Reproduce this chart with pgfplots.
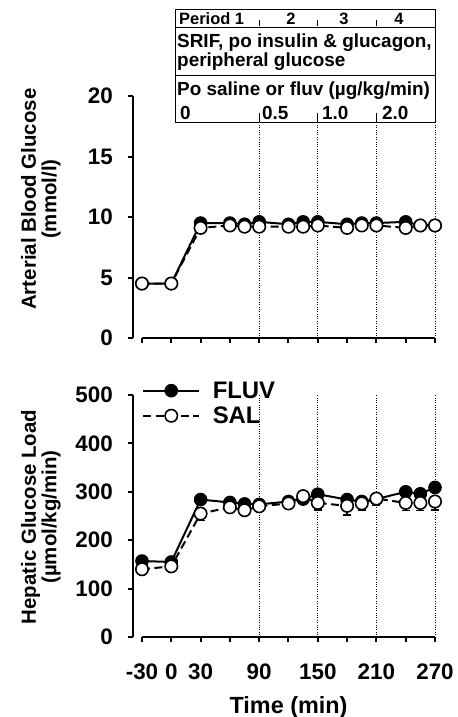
\documentclass[border=0pt]{standalone}
\usepackage{pgfplots}
\pgfplotsset{compat=1.18}
\usepackage{fontspec}
\setmainfont{Liberation Sans}
\newcommand{\fs}[1]{\bfseries\fontsize{#1}{#1}\selectfont}
\begin{document}
\begin{tikzpicture}[x=1bp,y=1bp]
\pgfplotsset{
  panel/.style={
    scale only axis, width=302bp, height=242bp,
    xmin=-39.2, xmax=270,
    axis x line*=bottom, axis y line*=left,
    x axis line style={draw=none},
    y axis line style={line width=2bp},
    every tick/.style={line width=2bp, black},
    tick align=outside, major tick length=5bp,
    xtick={-30,0,...,270},
    extra x ticks={90,150,210,270},
    extra x tick labels={},
    extra x tick style={grid=major, major grid style={dotted, line width=1bp, black}, major tick length=0pt},
    /pgf/number format/assume math mode=true,
    yticklabel style={font=\fs{22.5}, anchor=east, inner sep=0pt, xshift=-15bp},
    xticklabel style={font=\fs{22.5}, anchor=north, inner sep=0pt, yshift=-22bp},
    ylabel style={font=\fs{20.5}, align=center, anchor=center},
    clip=false,
  },
  fluv/.style={solid, line width=2bp, black, mark=*, mark size=6.2bp, mark options={solid, fill=black, line width=1.2bp}},
  sal/.style={dash pattern=on 8bp off 4.5bp, line width=2bp, black, mark=*, mark size=6.2bp, mark options={solid, fill=white, line width=1.6bp}},
}
% ---------- top panel ----------
\begin{axis}[panel, at={(133bp,-338bp)}, anchor=south west,
  ymin=0, ymax=20, ytick={0,5,10,15,20},
  xticklabels={},
  ylabel={Arterial Blood Glucose\\(mmol/l)},
  ylabel style={at={(axis description cs:-0.305,0.574)}},
]
\draw[line width=2bp] (axis cs:-30,0) -- (axis cs:270,0);
\addplot[fluv] coordinates {(-30,4.5) (0,4.5) (30,9.5) (60,9.5) (75,9.4) (90,9.6) (120,9.4) (135,9.6) (150,9.6) (180,9.4) (195,9.5) (210,9.5) (240,9.6) (255,9.3) (270,9.3)};
\addplot[sal] coordinates {(-30,4.5) (0,4.5) (30,9.1) (60,9.3) (75,9.2) (90,9.2) (120,9.2) (135,9.2) (150,9.3) (180,9.1) (195,9.3) (210,9.3) (240,9.1) (255,9.3) (270,9.3)};
\end{axis}
% ---------- bottom panel ----------
\begin{axis}[panel, at={(133bp,-637bp)}, anchor=south west,
  ymin=0, ymax=500, ytick={0,100,...,500},
  xticklabels={-30,0,30,,90,,150,,210,,270},
  ylabel={Hepatic Glucose Load\\(\textmu mol/kg/min)},
  ylabel style={at={(axis description cs:-0.305,0.496)}},
  xlabel={Time (min)},
  xlabel style={font=\fs{23.5}, at={(axis description cs:0.515,-0.289)}, anchor=center},
  legend style={draw=none, fill=none, at={(axis description cs:0.03,1.062)}, anchor=north west,
    font=\fs{24}, inner sep=0pt, row sep=4bp, column sep=11bp, nodes={inner sep=1.5bp}},
  legend cell align=left,
  legend image code/.code={\draw[mark repeat=2,mark phase=2] plot coordinates {(0bp,0bp) (28bp,0bp) (56bp,0bp)};},
]
\draw[line width=2bp] (axis cs:-30,0) -- (axis cs:270,0);
\addplot[fluv] coordinates {(-30,157) (0,155) (30,284) (60,278) (75,275) (90,274) (120,280) (135,285) (150,295) (180,284) (195,280) (210,285) (240,300) (255,296) (270,309)};
\addlegendentry{FLUV}
\addplot[sal, error bars/.cd, y dir=minus, y explicit,
  error bar style={solid, line width=1.5bp},
  error mark options={rotate=90, mark size=4bp, line width=1.5bp}]
  coordinates {(-30,140) +- (0,0) (0,146) +- (0,0) (30,255) +- (0,14) (60,268) +- (0,8) (75,262) +- (0,8) (90,270) +- (0,8) (120,276) +- (0,8) (135,291) +- (0,12) (150,277) +- (0,15) (180,271) +- (0,19) (195,276) +- (0,14) (210,286) +- (0,14) (240,277) +- (0,16) (255,277) +- (0,16) (270,280) +- (0,18)};
\addlegendentry{SAL}
\end{axis}
% ---------- protocol box ----------
\fill[white] (175,-10) rectangle (435,-123);
\draw[line width=1bp] (175,-10) rectangle (435,-123);
\draw[line width=1bp] (175,-28) -- (435,-28);
\draw[line width=1bp] (175,-76) -- (435,-76);
\foreach \xx in {259,317.7,376.3} {
  \draw[line width=0.8bp] (\xx,-20.5) -- (\xx,-26.5);
  \draw[line width=0.8bp] (\xx,-113) -- (\xx,-122);
}
\node[anchor=base west, inner sep=0pt, font=\fs{16.5}] at (179,-25) {Period 1};
\node[anchor=base, inner sep=0pt, font=\fs{16.5}] at (291,-25) {2};
\node[anchor=base, inner sep=0pt, font=\fs{16.5}] at (344,-25) {3};
\node[anchor=base, inner sep=0pt, font=\fs{16.5}] at (399,-25) {4};
\node[anchor=base west, inner sep=0pt, font=\fs{19}] at (177,-48) {SRIF, po insulin \& glucagon,};
\node[anchor=base west, inner sep=0pt, font=\fs{19}] at (177,-67) {peripheral glucose};
\node[anchor=base west, inner sep=0pt, font=\fs{19}] at (177,-96) {Po saline or fluv (\textmu g/kg/min)};
\node[anchor=base west, inner sep=0pt, font=\fs{19}] at (180,-120) {0};
\node[anchor=base west, inner sep=0pt, font=\fs{19}] at (262,-120) {0.5};
\node[anchor=base west, inner sep=0pt, font=\fs{19}] at (322,-120) {1.0};
\node[anchor=base west, inner sep=0pt, font=\fs{19}] at (382,-120) {2.0};
\pgfresetboundingbox
\path[use as bounding box] (0,0) rectangle (458,-717);
\end{tikzpicture}
\end{document}
